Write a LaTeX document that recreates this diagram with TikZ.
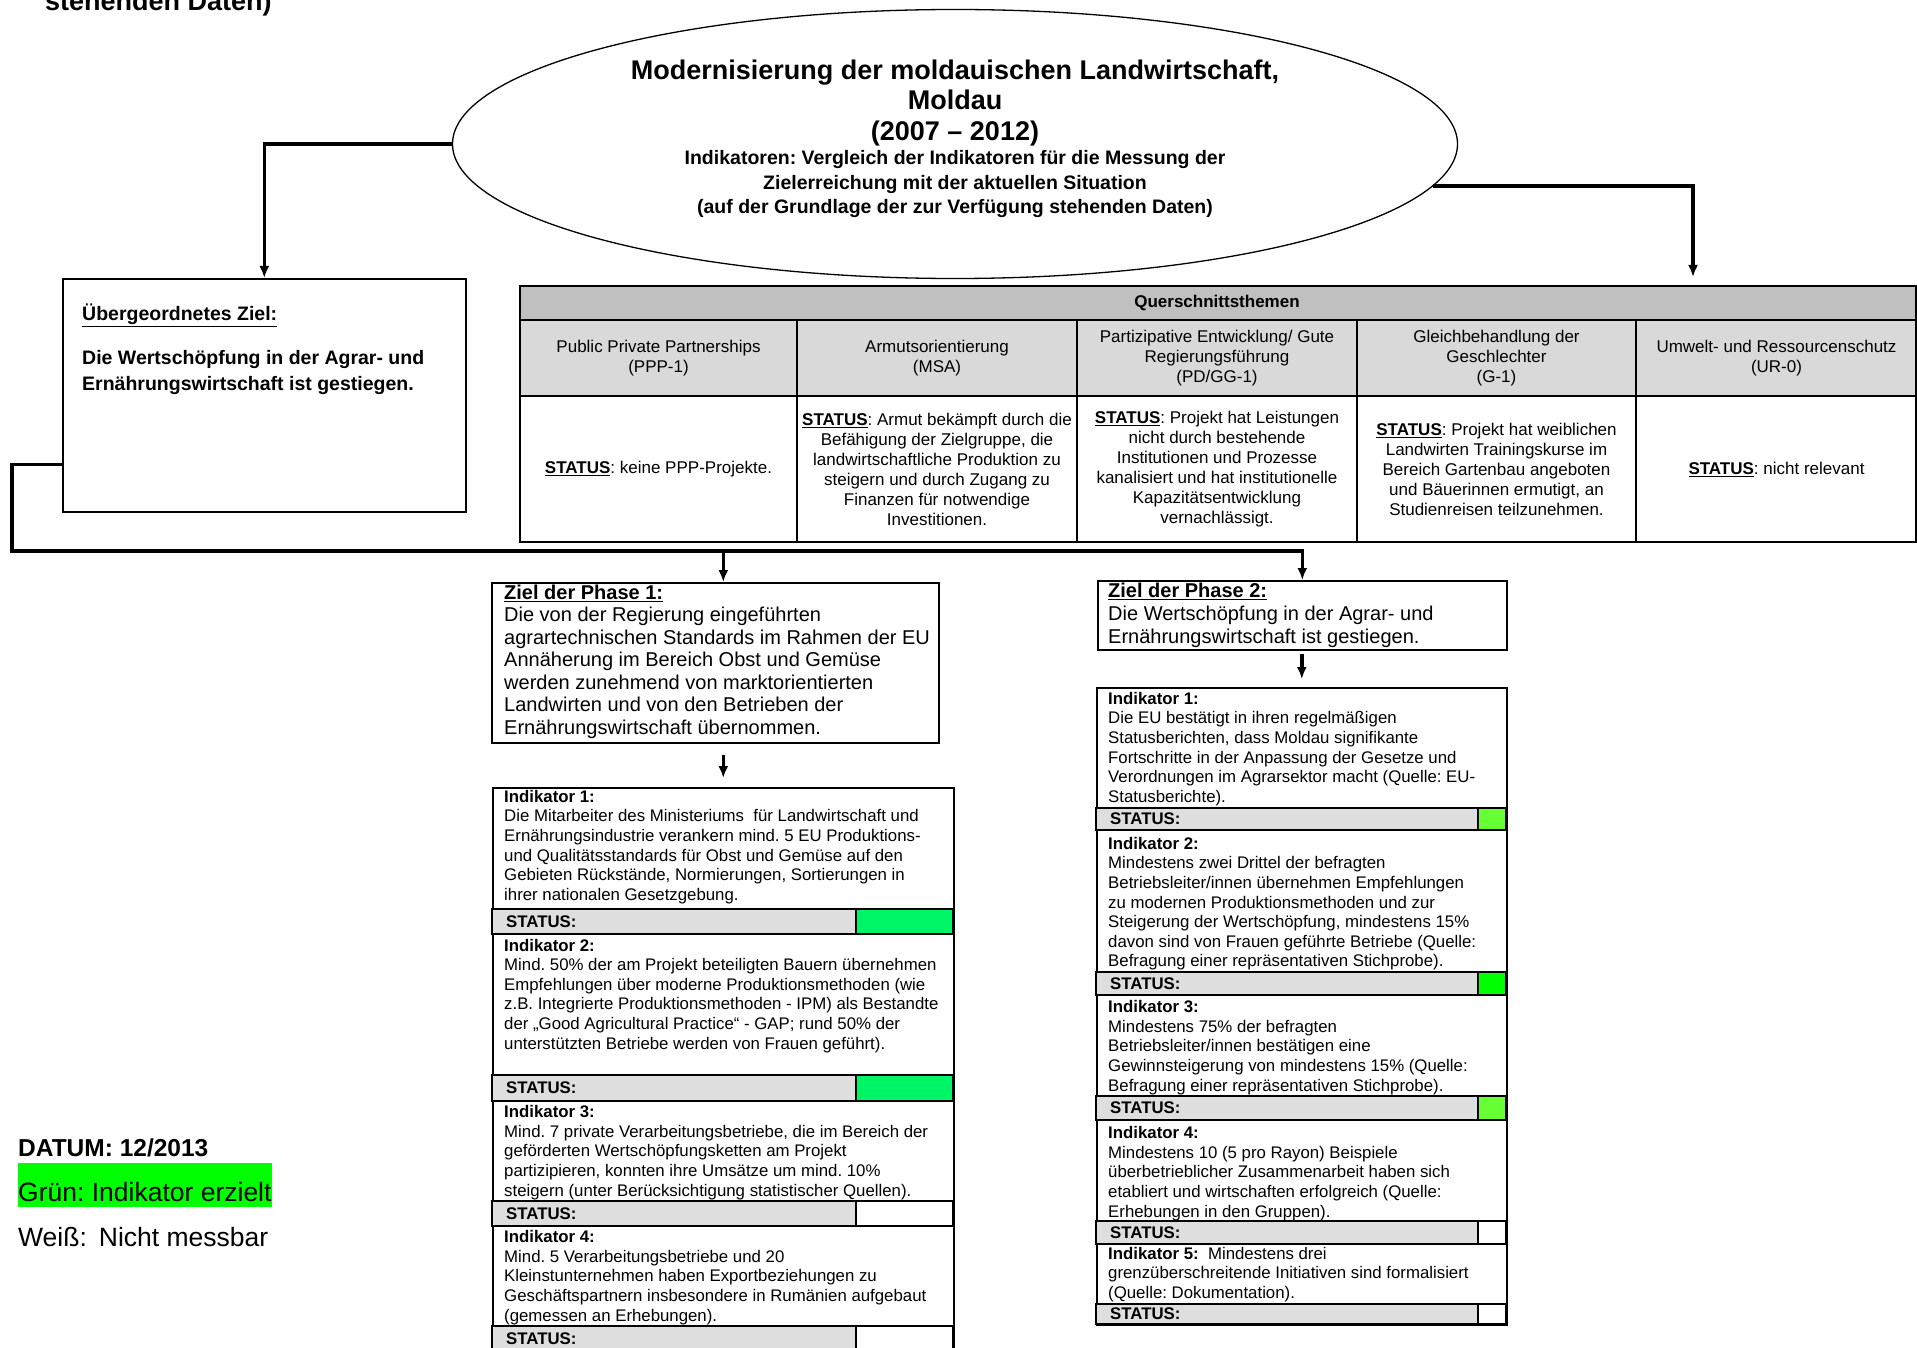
\documentclass[tikz,border=0pt]{standalone}
\usepackage{fontspec}
\setmainfont{Liberation Sans}
\usetikzlibrary{shapes.geometric,arrows.meta,positioning}
\frenchspacing

\definecolor{kopfgrau}{HTML}{C0C0C0}
\definecolor{spaltgrau}{HTML}{D9D9D9}
\definecolor{statgrau}{HTML}{DEDEDE}
\definecolor{gruenA}{HTML}{00F566}
\definecolor{gruenB}{HTML}{66FF33}
\definecolor{gruenC}{HTML}{00FF00}

\newcommand{\statlbl}{\underline{\textbf{STATUS}}}

\tikzset{
  kasten/.style={draw,line width=1.6pt,inner sep=0pt,anchor=north west},
  verbinder/.style={line width=3.4pt},
  tabtext/.style={align=center,inner sep=0pt,font=\fontsize{17}{20}\selectfont},
  indtext/.style={anchor=north west,align=left,inner sep=0pt,font=\fontsize{16.8}{19.6}\selectfont},
  stattext/.style={anchor=west,inner sep=0pt,font=\bfseries\fontsize{16.8}{19.6}\selectfont},
  zieltext/.style={anchor=north west,align=left,inner sep=0pt,font=\fontsize{20}{22.5}\selectfont},
  legtext/.style={anchor=base west,inner sep=0pt,font=\fontsize{26.5}{30}\selectfont},
}

\begin{document}
\begin{tikzpicture}[x=1pt,y=-1pt,>={Latex[length=12pt,width=10pt]}]
\useasboundingbox (0,0) rectangle (1917,1348);

% Rest oben links (abgeschnitten)
\node[anchor=base west,inner sep=0pt,font=\bfseries\fontsize{27}{30}\selectfont] (oben) at (45,11) {stehenden Daten)};

% Projekt
\node[ellipse,draw,line width=1.3pt,minimum width=1005pt,minimum height=269pt] (proj) at (955,144) {};
\node[anchor=north,align=center,inner sep=0pt,font=\bfseries\fontsize{27}{30.5}\selectfont] (titel) at (955,59.5)
  {Modernisierung der moldauischen Landwirtschaft,\\Moldau\\(2007 – 2012)};
\node[anchor=north,align=center,inner sep=0pt,font=\bfseries\fontsize{19.5}{24.3}\selectfont] (indik) at (955,150.5)
  {Indikatoren: Vergleich der Indikatoren für die Messung der\\Zielerreichung mit der aktuellen Situation\\(auf der Grundlage der zur Verfügung stehenden Daten)};

% Oberziel
\node[kasten,minimum width=403pt,minimum height=233pt] (ziel) at (62,278) {};
\node[anchor=north west,align=left,inner sep=0pt,font=\bfseries\fontsize{19.5}{26}\selectfont] (zieltxt) at (82,304)
  {\underline{Übergeordnetes Ziel:}\\[18pt]Die Wertschöpfung in der Agrar- und\\Ernährungswirtschaft ist gestiegen.};

% Querschnittsthemen
\fill[kopfgrau] (520,286) rectangle (1917,320);
\fill[spaltgrau] (520,320) rectangle (1917,396);
\draw[line width=1.6pt] (520,286) rectangle (1916,542) (520,320) -- (1916,320) (520,396) -- (1916,396);
\foreach \x in {797,1077,1357,1636} \draw[line width=1.6pt] (\x,320) -- (\x,542);
\node[tabtext,font=\bfseries\fontsize{17}{20}\selectfont] (qs) at (1217,303) {Querschnittsthemen};
\node[tabtext] (k1) at (658.5,358) {Public Private Partnerships\\(PPP-1)};
\node[tabtext] (k2) at (937,358) {Armutsorientierung\\(MSA)};
\node[tabtext] (k3) at (1217,358) {Partizipative Entwicklung/ Gute\\Regierungsführung\\(PD/GG-1)};
\node[tabtext] (k4) at (1496.5,358) {Gleichbehandlung der\\Geschlechter\\(G-1)};
\node[tabtext] (k5) at (1776.5,358) {Umwelt- und Ressourcenschutz\\(UR-0)};
\node[tabtext] (s1) at (658.5,469.5) {\statlbl: keine PPP-Projekte.};
\node[tabtext] (s2) at (937,469.5) {\statlbl: Armut bekämpft durch die\\Befähigung der Zielgruppe, die\\landwirtschaftliche Produktion zu\\steigern und durch Zugang zu\\Finanzen für notwendige\\Investitionen.};
\node[tabtext] (s3) at (1217,469.5) {\statlbl: Projekt hat Leistungen\\nicht durch bestehende\\Institutionen und Prozesse\\kanalisiert und hat institutionelle\\Kapazitätsentwicklung\\vernachlässigt.};
\node[tabtext] (s4) at (1496.5,469.5) {\statlbl: Projekt hat weiblichen\\Landwirten Trainingskurse im\\Bereich Gartenbau angeboten\\und Bäuerinnen ermutigt, an\\Studienreisen teilzunehmen.};
\node[tabtext] (s5) at (1776.5,469.5) {\statlbl: nicht relevant};

% Ziele der Phasen
\node[kasten,minimum width=447pt,minimum height=160pt] (ph1) at (491,582) {};
\node[zieltext] (ph1txt) at (504,584.5) {\textbf{\underline{Ziel der Phase 1:}}\\Die von der Regierung eingeführten\\agrartechnischen Standards im Rahmen der EU\\Annäherung im Bereich Obst und Gemüse\\werden zunehmend von marktorientierten\\Landwirten und von den Betrieben der\\Ernährungswirtschaft übernommen.};
\node[kasten,minimum width=409pt,minimum height=69pt] (ph2) at (1097,580) {};
\node[zieltext,font=\fontsize{20}{23}\selectfont] (ph2txt) at (1108,582.5) {\textbf{\underline{Ziel der Phase 2:}}\\Die Wertschöpfung in der Agrar- und\\Ernährungswirtschaft ist gestiegen.};

% Indikatoren Phase 1
\node[kasten,minimum width=461pt,minimum height=565pt] (p1box) at (492,787) {};
\foreach \oben/\unten/\farbe [count=\i] in {909/934/gruenA,1075/1101/gruenA,1201/1226/white,1326/1352/white}{
  \draw[line width=1.6pt,fill=statgrau] (492,\oben) rectangle (856,\unten);
  \draw[line width=1.6pt,fill=\farbe] (856,\oben) rectangle (953,\unten);
  \node[stattext] (p1s\i) at (506,{(\oben+\unten)/2}) {STATUS:};
}
\node[indtext] (p1i1) at (504,790) {\textbf{Indikator 1:}\\Die Mitarbeiter des Ministeriums\ \ für Landwirtschaft und\\Ernährungsindustrie verankern mind. 5 EU Produktions-\\und Qualitätsstandards für Obst und Gemüse auf den\\Gebieten Rückstände, Normierungen, Sortierungen in\\ihrer nationalen Gesetzgebung.};
\node[indtext] (p1i2) at (504,938.7) {\textbf{Indikator 2:}\\Mind. 50\% der am Projekt beteiligten Bauern übernehmen\\Empfehlungen über moderne Produktionsmethoden (wie\\z.B. Integrierte Produktionsmethoden - IPM) als Bestandte\\der „Good Agricultural Practice“ - GAP; rund 50\% der\\unterstützten Betriebe werden von Frauen geführt).};
\node[indtext] (p1i3) at (504,1105.4) {\textbf{Indikator 3:}\\Mind. 7 private Verarbeitungsbetriebe, die im Bereich der\\geförderten Wertschöpfungsketten am Projekt\\partizipieren, konnten ihre Umsätze um mind. 10\%\\steigern (unter Berücksichtigung statistischer Quellen).};
\node[indtext] (p1i4) at (504,1230.4) {\textbf{Indikator 4:}\\Mind. 5 Verarbeitungsbetriebe und 20\\Kleinstunternehmen haben Exportbeziehungen zu\\Geschäftspartnern insbesondere in Rumänien aufgebaut\\(gemessen an Erhebungen).};

% Indikatoren Phase 2
\node[kasten,minimum width=410pt,minimum height=637pt] (p2box) at (1096,687) {};
\foreach \oben/\unten/\farbe [count=\i] in {808/830/gruenB,972/995/gruenC,1096/1120/gruenB,1221/1244/white,1304/1324/white}{
  \draw[line width=1.6pt,fill=statgrau] (1096,\oben) rectangle (1478,\unten);
  \draw[line width=1.6pt,fill=\farbe] (1478,\oben) rectangle (1506,\unten);
  \node[stattext] (p2s\i) at (1110,{(\oben+\unten)/2}) {STATUS:};
}
\node[indtext] (p2i1) at (1108,692) {\textbf{Indikator 1:}\\Die EU bestätigt in ihren regelmäßigen\\Statusberichten, dass Moldau signifikante\\Fortschritte in der Anpassung der Gesetze und\\Verordnungen im Agrarsektor macht (Quelle: EU-\\Statusberichte).};
\node[indtext] (p2i2) at (1108,837) {\textbf{Indikator 2:}\\Mindestens zwei Drittel der befragten\\Betriebsleiter/innen übernehmen Empfehlungen\\zu modernen Produktionsmethoden und zur\\Steigerung der Wertschöpfung, mindestens 15\%\\davon sind von Frauen geführte Betriebe (Quelle:\\Befragung einer repräsentativen Stichprobe).};
\node[indtext] (p2i3) at (1108,1000.4) {\textbf{Indikator 3:}\\Mindestens 75\% der befragten\\Betriebsleiter/innen bestätigen eine\\Gewinnsteigerung von mindestens 15\% (Quelle:\\Befragung einer repräsentativen Stichprobe).};
\node[indtext] (p2i4) at (1108,1126.4) {\textbf{Indikator 4:}\\Mindestens 10 (5 pro Rayon) Beispiele\\überbetrieblicher Zusammenarbeit haben sich\\etabliert und wirtschaften erfolgreich (Quelle:\\Erhebungen in den Gruppen).};
\node[indtext] (p2i5) at (1108,1247) {\textbf{Indikator 5:}\ \ Mindestens drei\\grenzüberschreitende Initiativen sind formalisiert\\(Quelle: Dokumentation).};

% Verbinder
\coordinate (qsziel) at (1693,277);
\coordinate (knick) at (12,551);
\draw[verbinder,->] (proj.west) -| (ziel.north);
\draw[verbinder,->] (proj.-5) -| (qsziel);
\draw[verbinder,->] ([yshift=-69pt]ziel.west) -| (knick) -| (ph2.north);
\draw[verbinder,->] (knick -| p1box.north) -- (ph1.north -| p1box.north);
\draw[verbinder,->,shorten <=11pt,shorten >=9pt] (ph1.south -| p1box.north) -- (p1box.north);
\draw[verbinder,->,shorten <=3pt,shorten >=8pt] (ph2.south -| p2box.north) -- (p2box.north);

% Legende
\node[anchor=base west,inner sep=0pt,font=\bfseries\fontsize{24.5}{28}\selectfont] (datum) at (18,1156) {DATUM: 12/2013};
\node[legtext,text height=38.5pt,text depth=5.5pt,fill=gruenC] (gruen) at (18,1201.5) {Grün: Indikator erzielt};
\node[legtext] (weiss) at (18,1246.5) {Weiß:\hspace{12pt}Nicht messbar};
\end{tikzpicture}
\end{document}
